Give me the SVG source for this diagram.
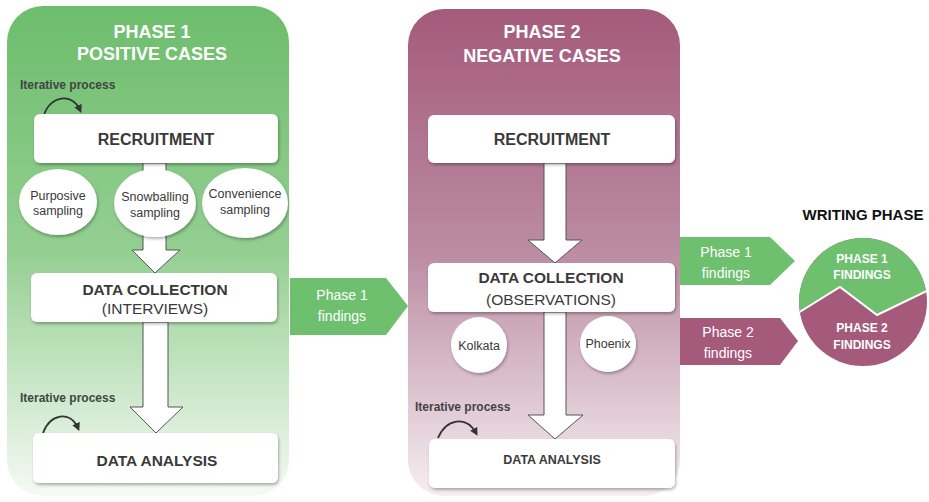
<svg xmlns="http://www.w3.org/2000/svg" width="929" height="502" viewBox="0 0 929 502">
<defs>
<linearGradient id="g1" x1="0" y1="0" x2="0" y2="1">
<stop offset="0" stop-color="#6dbd6c"/>
<stop offset="0.5" stop-color="#94cf92"/>
<stop offset="1" stop-color="#f6faf5"/>
</linearGradient>
<linearGradient id="g2" x1="0" y1="0" x2="0" y2="1">
<stop offset="0" stop-color="#a55a7b"/>
<stop offset="0.5" stop-color="#bb8ca2"/>
<stop offset="1" stop-color="#f6eef2"/>
</linearGradient>
<filter id="sh" x="-10%" y="-20%" width="120%" height="150%">
<feDropShadow dx="1" dy="2" stdDeviation="1.5" flood-color="#000" flood-opacity="0.3"/>
</filter>
<marker id="ah" viewBox="0 0 10 10" refX="6" refY="5" markerWidth="4.5" markerHeight="4.5" orient="auto">
<path d="M0,0 L10,5 L0,10 z" fill="#333"/>
</marker>
<clipPath id="cc"><circle cx="863" cy="302" r="64"/></clipPath>
</defs>
<style>
.box{fill:#fff;filter:url(#sh);}
.bt{font-family:"Liberation Sans",Arial,sans-serif;font-weight:bold;fill:#3a3a3a;text-anchor:middle;}
.nt{font-family:"Liberation Sans",Arial,sans-serif;fill:#3a3a3a;text-anchor:middle;}
.title{font-family:"Liberation Sans",Arial,sans-serif;font-weight:bold;fill:#fff;font-size:18px;text-anchor:middle;}
.it{font-family:"Liberation Sans",Arial,sans-serif;font-weight:bold;fill:#444;font-size:12px;}
.circ{fill:#fff;filter:url(#sh);}
.big{fill:#fff;stroke:#555;stroke-width:1;}
.wf{font-family:"Liberation Sans",Arial,sans-serif;fill:#fff;font-size:14px;text-anchor:middle;}
.cur{fill:none;stroke:#333;stroke-width:1.8;marker-end:url(#ah);}
.wt{font-family:"Liberation Sans",Arial,sans-serif;font-weight:bold;font-size:12px;fill:#fff;text-anchor:middle;}
</style>

<g id="phase1">
<rect x="7" y="6" width="282" height="490" rx="36" fill="url(#g1)"/>
<text class="title" x="152" y="38">PHASE 1</text>
<text class="title" x="152" y="60">POSITIVE CASES</text>
</g>
<g id="phase2">
<rect x="408" y="9" width="272" height="487" rx="36" fill="url(#g2)"/>
<text class="title" x="542" y="38">PHASE 2</text>
<text class="title" x="542" y="62">NEGATIVE CASES</text>
</g>

<g id="connectors">
<path class="big" d="M143,163 L166,163 L166,250 L180,250 L155,273 L132,250 L143,250 z"/>
<path class="big" d="M143,322 L168,322 L168,407 L183,407 L156,433 L130,407 L143,407 z"/>
<path class="big" d="M544,163 L566,163 L566,240 L582,240 L555,263 L528,240 L544,240 z"/>
<path class="big" d="M544,312 L566,312 L566,415 L583,415 L555,439 L528,415 L544,415 z"/>
<path class="cur" d="M44,115 C50,96 72,92 80,110"/>
<path class="cur" d="M43,433 C50,414 70,410 78,428"/>
<path class="cur" d="M438,438 C446,419 466,415 476,433"/>
<g id="arrow-mid">
<path d="M290,278 L386,278 L408,306 L386,335 L290,335 z" fill="#6ebf6e"/>
<text class="wf" x="342" y="300">Phase 1</text>
<text class="wf" x="342" y="321">findings</text>
</g>
<g id="arrow-r1">
<path d="M680,237 L770,237 L795,261 L770,285 L680,285 z" fill="#6ebf6e"/>
<text class="wf" x="726" y="257">Phase 1</text>
<text class="wf" x="726" y="278">findings</text>
</g>
<g id="arrow-r2">
<path d="M680,318 L780,318 L798,341 L780,365 L680,365 z" fill="#a55a7b"/>
<text class="wf" x="728" y="337">Phase 2</text>
<text class="wf" x="728" y="358">findings</text>
</g>
</g>

<g id="it1"><text class="it" x="20" y="89">Iterative process</text></g>
<g id="recruit1">
<rect class="box" x="34" y="114" width="244" height="49" rx="6"/>
<text class="bt" x="156" y="145" font-size="16">RECRUITMENT</text>
</g>
<g id="purposive">
<ellipse class="circ" cx="58" cy="202" rx="39" ry="33"/>
<text class="nt" x="58" y="200" font-size="12.5">Purposive</text>
<text class="nt" x="58" y="215" font-size="12.5">sampling</text>
</g>
<g id="snowballing">
<ellipse class="circ" cx="155" cy="203" rx="41" ry="34"/>
<text class="nt" x="155" y="201" font-size="12.5">Snowballing</text>
<text class="nt" x="155" y="217" font-size="12.5">sampling</text>
</g>
<g id="convenience">
<ellipse class="circ" cx="245" cy="203" rx="43" ry="35"/>
<text class="nt" x="245" y="198" font-size="12.5">Convenience</text>
<text class="nt" x="245" y="214" font-size="12.5">sampling</text>
</g>
<g id="datacol1">
<rect class="box" x="31" y="273" width="246" height="49" rx="6"/>
<text class="bt" x="155" y="295" font-size="15.5">DATA COLLECTION</text>
<text class="nt" x="155" y="314" font-size="15.5">(INTERVIEWS)</text>
</g>
<g id="it2"><text class="it" x="20" y="402">Iterative process</text></g>
<g id="analysis1">
<rect class="box" x="33" y="433" width="245" height="50" rx="6"/>
<text class="bt" x="157" y="466" font-size="15.5">DATA ANALYSIS</text>
</g>

<g id="recruit2">
<rect class="box" x="428" y="115" width="247" height="48" rx="6"/>
<text class="bt" x="552" y="145" font-size="16">RECRUITMENT</text>
</g>
<g id="datacol2">
<rect class="box" x="428" y="263" width="247" height="49" rx="6"/>
<text class="bt" x="551" y="283" font-size="15.5">DATA COLLECTION</text>
<text class="nt" x="551" y="305" font-size="15.5">(OBSERVATIONS)</text>
</g>
<g id="kolkata">
<circle class="circ" cx="479" cy="345" r="28"/>
<text class="nt" x="479" y="350" font-size="12.5">Kolkata</text>
</g>
<g id="phoenix">
<circle class="circ" cx="608" cy="344" r="28"/>
<text class="nt" x="608" y="348" font-size="12.5">Phoenix</text>
</g>
<g id="it3"><text class="it" x="415" y="411">Iterative process</text></g>
<g id="analysis2">
<rect class="box" x="429" y="439" width="246" height="49" rx="6"/>
<text class="bt" x="552" y="464" font-size="12.5">DATA ANALYSIS</text>
</g>

<g id="writing">
<text x="863" y="220" font-family="Liberation Sans,Arial,sans-serif" font-weight="bold" font-size="15" fill="#111" text-anchor="middle">WRITING PHASE</text>
<g clip-path="url(#cc)">
<rect x="795" y="235" width="140" height="135" fill="#a55a7b"/>
<path d="M790,238 L935,238 L935,286 L929,290 L877,315 L840,287 L798,313 L790,318 z" fill="#6ebf6e"/>
<path d="M798,313 L840,287 L877,315 L929,290" fill="none" stroke="#fff" stroke-width="2"/>
</g>
<text class="wt" x="862" y="263">PHASE 1</text>
<text class="wt" x="862" y="279">FINDINGS</text>
<text class="wt" x="862" y="332">PHASE 2</text>
<text class="wt" x="862" y="349">FINDINGS</text>
</g>
</svg>
